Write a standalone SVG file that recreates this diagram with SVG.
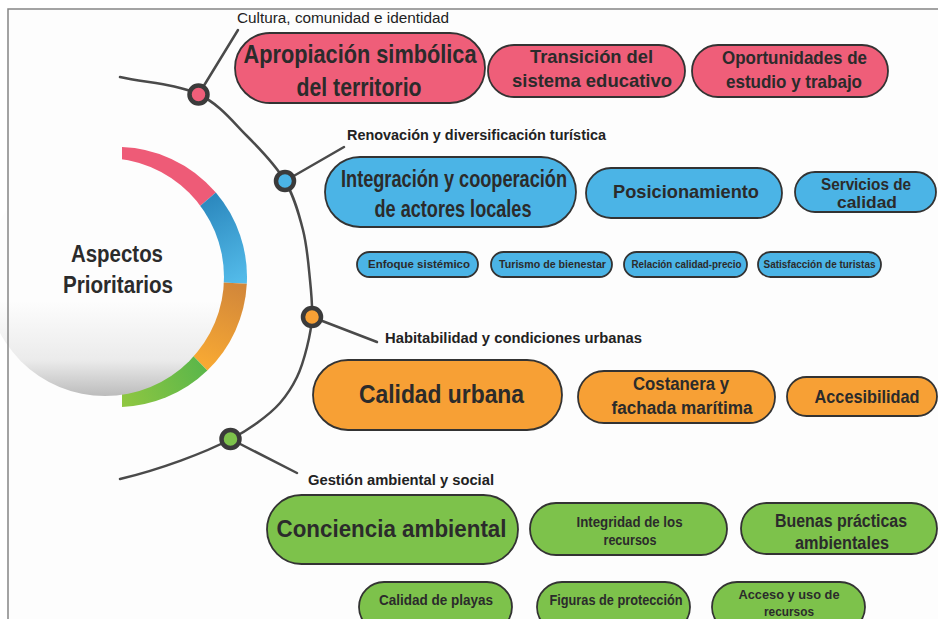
<svg xmlns="http://www.w3.org/2000/svg" width="938" height="619" viewBox="0 0 938 619">
  <defs>
    <style>
      .pill { stroke: #333333; stroke-width: 1.8; }
      .pk { fill: #EF5E79; }
      .bl { fill: #4BB4E6; }
      .or { fill: #F7A035; }
      .gr { fill: #7DC24B; }
      .t { font-family: "Liberation Sans", Arial, sans-serif; font-weight: bold; fill: #2b2b2b; text-anchor: middle; }
      .lab { font-family: "Liberation Sans", Arial, sans-serif; font-size: 14px; fill: #222222; }
      .labb { font-weight: bold; }
      .conn { stroke: #4a4a4a; stroke-width: 2.5; fill: none; stroke-linecap: round; }
      .dot { stroke: #3b3b3b; stroke-width: 4.5; }
    </style>
    <linearGradient id="gBlue" gradientUnits="userSpaceOnUse" x1="205" y1="195" x2="248" y2="282">
      <stop offset="0" stop-color="#2A86BC"/>
      <stop offset="1" stop-color="#55BDEB"/>
    </linearGradient>
    <linearGradient id="gOrange" gradientUnits="userSpaceOnUse" x1="240" y1="286" x2="205" y2="368">
      <stop offset="0" stop-color="#D2873A"/>
      <stop offset="1" stop-color="#F9AA33"/>
    </linearGradient>
    <linearGradient id="gGreen" gradientUnits="userSpaceOnUse" x1="207" y1="370" x2="122" y2="407">
      <stop offset="0" stop-color="#5AB64A"/>
      <stop offset="1" stop-color="#90C741"/>
    </linearGradient>
    <linearGradient id="gDisk" x1="0" y1="0" x2="0" y2="1">
      <stop offset="0" stop-color="#fdfdfd"/>
      <stop offset="0.6" stop-color="#fdfdfd"/>
      <stop offset="0.85" stop-color="#ebebeb"/>
      <stop offset="1" stop-color="#bcbcbc"/>
    </linearGradient>
    <clipPath id="ringClip">
      <rect x="122" y="100" width="200" height="360"/>
    </clipPath>
  </defs>

  <rect x="0" y="0" width="938" height="619" fill="#ffffff"/>
  <rect x="8" y="9" width="930" height="610" fill="#fdfdfd"/>

  <!-- central hub -->
  <g id="hub">
    <g clip-path="url(#ringClip)">
      <path d="M117,277 L117,147 A130,130 0 0 1 215.85,192.58 Z" fill="#EE5B77"/>
      <path d="M117,277 L215.85,192.58 A130,130 0 0 1 246.82,283.8 Z" fill="url(#gBlue)"/>
      <path d="M117,277 L246.82,283.8 A130,130 0 0 1 207.3,370.5 Z" fill="url(#gOrange)"/>
      <path d="M117,277 L207.3,370.5 A130,130 0 0 1 117,407 Z" fill="url(#gGreen)"/>
    </g>
    <circle cx="105" cy="277" r="119" fill="url(#gDisk)"/>
    <text class="t" x="117" y="262" font-size="23" textLength="92" lengthAdjust="spacingAndGlyphs">Aspectos</text>
    <text class="t" x="118" y="293" font-size="23" textLength="110" lengthAdjust="spacingAndGlyphs">Prioritarios</text>
  </g>

  <!-- connectors -->
  <g id="connectors">
    <path class="conn" d="M120,77 C146,82.7 176.8,84.2 198,94 C219.2,103.8 232.5,121.5 247,136 C261.5,150.5 275.7,165.3 285,181 C294.3,196.7 298.8,213.5 303,230 C307.2,246.5 308.5,265.5 310,280 C311.5,294.5 312.5,305.8 312,317 C311.5,328.2 309.5,337 307,347 C304.5,357 301.5,367.7 297,377 C292.5,386.3 286.7,395.3 280,403 C273.3,410.7 265.2,417 257,423 C248.8,429 244.7,431.8 231,439 C205,452.7 160,469.5 120,479"/>
    <line class="conn" x1="198.5" y1="94.5" x2="238" y2="30"/>
    <line class="conn" x1="285" y1="181" x2="344" y2="147"/>
    <line class="conn" x1="312" y1="317" x2="377" y2="342"/>
    <line class="conn" x1="230.5" y1="439" x2="297" y2="473"/>
    <circle class="dot pk" cx="198.5" cy="94.5" r="9"/>
    <circle class="dot bl" cx="285" cy="181" r="9"/>
    <circle class="dot or" cx="312" cy="317" r="9"/>
    <circle class="dot gr" cx="230.5" cy="439" r="9"/>
  </g>

  <!-- section labels -->
  <g id="label-cultura">
    <text class="lab" x="237" y="23" font-size="15" textLength="212" lengthAdjust="spacingAndGlyphs">Cultura, comunidad e identidad</text>
  </g>
  <g id="label-renovacion">
    <text class="lab labb" x="347" y="140" font-size="15" textLength="259" lengthAdjust="spacingAndGlyphs">Renovación y diversificación turística</text>
  </g>
  <g id="label-habitabilidad">
    <text class="lab labb" x="385" y="343" font-size="15" textLength="257" lengthAdjust="spacingAndGlyphs">Habitabilidad y condiciones urbanas</text>
  </g>
  <g id="label-gestion">
    <text class="lab labb" x="308" y="485" font-size="15" textLength="186" lengthAdjust="spacingAndGlyphs">Gestión ambiental y social</text>
  </g>

  <!-- pink row -->
  <g id="n-apropiacion">
    <rect class="pill pk" x="235" y="33" width="250" height="70" rx="35"/>
    <text class="t" x="360" y="63" font-size="25" textLength="233" lengthAdjust="spacingAndGlyphs">Apropiación simbólica</text>
    <text class="t" x="359" y="96" font-size="25" textLength="125" lengthAdjust="spacingAndGlyphs">del territorio</text>
  </g>
  <g id="n-transicion">
    <rect class="pill pk" x="488" y="45" width="197" height="52" rx="26"/>
    <text class="t" x="591.5" y="63" font-size="19" textLength="123" lengthAdjust="spacingAndGlyphs">Transición del</text>
    <text class="t" x="592" y="87" font-size="19" textLength="160" lengthAdjust="spacingAndGlyphs">sistema educativo</text>
  </g>
  <g id="n-oportunidades">
    <rect class="pill pk" x="692" y="45" width="196" height="52" rx="26"/>
    <text class="t" x="794.5" y="64" font-size="19" textLength="145" lengthAdjust="spacingAndGlyphs">Oportunidades de</text>
    <text class="t" x="794" y="88" font-size="19" textLength="136" lengthAdjust="spacingAndGlyphs">estudio y trabajo</text>
  </g>

  <!-- blue row -->
  <g id="n-integracion">
    <rect class="pill bl" x="325" y="157" width="251" height="70" rx="35"/>
    <text class="t" x="454" y="187" font-size="24" textLength="226" lengthAdjust="spacingAndGlyphs">Integración y cooperación</text>
    <text class="t" x="453" y="217" font-size="24" textLength="157" lengthAdjust="spacingAndGlyphs">de actores locales</text>
  </g>
  <g id="n-posicionamiento">
    <rect class="pill bl" x="586" y="168" width="196" height="50" rx="25"/>
    <text class="t" x="686" y="198" font-size="19" textLength="146" lengthAdjust="spacingAndGlyphs">Posicionamiento</text>
  </g>
  <g id="n-servicios">
    <rect class="pill bl" x="795" y="172" width="141" height="40" rx="20"/>
    <text class="t" x="866" y="190" font-size="16" textLength="90" lengthAdjust="spacingAndGlyphs">Servicios de</text>
    <text class="t" x="867" y="208" font-size="16" textLength="60" lengthAdjust="spacingAndGlyphs">calidad</text>
  </g>
  <g id="n-enfoque">
    <rect class="pill bl" x="357" y="252" width="121" height="25" rx="12.5"/>
    <text class="t" x="419" y="268" font-size="11" textLength="102" lengthAdjust="spacingAndGlyphs">Enfoque sistémico</text>
  </g>
  <g id="n-turismo">
    <rect class="pill bl" x="491" y="252" width="121" height="25" rx="12.5"/>
    <text class="t" x="552.5" y="268" font-size="11" textLength="107" lengthAdjust="spacingAndGlyphs">Turismo de bienestar</text>
  </g>
  <g id="n-relacion">
    <rect class="pill bl" x="624" y="252" width="123" height="25" rx="12.5"/>
    <text class="t" x="686.5" y="268" font-size="11" textLength="110" lengthAdjust="spacingAndGlyphs">Relación calidad-precio</text>
  </g>
  <g id="n-satisfaccion">
    <rect class="pill bl" x="758" y="252" width="123" height="25" rx="12.5"/>
    <text class="t" x="819.5" y="268" font-size="11" textLength="112" lengthAdjust="spacingAndGlyphs">Satisfacción de turistas</text>
  </g>

  <!-- orange row -->
  <g id="n-calidad-urbana">
    <rect class="pill or" x="313" y="360" width="249" height="70" rx="35"/>
    <text class="t" x="441.5" y="403" font-size="25" textLength="165" lengthAdjust="spacingAndGlyphs">Calidad urbana</text>
  </g>
  <g id="n-costanera">
    <rect class="pill or" x="578" y="371" width="197" height="52" rx="26"/>
    <text class="t" x="681" y="390" font-size="18" textLength="96" lengthAdjust="spacingAndGlyphs">Costanera y</text>
    <text class="t" x="682" y="414" font-size="18" textLength="141" lengthAdjust="spacingAndGlyphs">fachada marítima</text>
  </g>
  <g id="n-accesibilidad">
    <rect class="pill or" x="787" y="377" width="150" height="39" rx="19.5"/>
    <text class="t" x="867" y="403" font-size="19" textLength="105" lengthAdjust="spacingAndGlyphs">Accesibilidad</text>
  </g>

  <!-- green row -->
  <g id="n-conciencia">
    <rect class="pill gr" x="267" y="495" width="251" height="69" rx="34.5"/>
    <text class="t" x="391.5" y="537" font-size="24" textLength="230" lengthAdjust="spacingAndGlyphs">Conciencia ambiental</text>
  </g>
  <g id="n-integridad">
    <rect class="pill gr" x="530" y="503" width="197" height="52" rx="26"/>
    <text class="t" x="629.5" y="527" font-size="14" textLength="106" lengthAdjust="spacingAndGlyphs">Integridad de los</text>
    <text class="t" x="630" y="545" font-size="14" textLength="53" lengthAdjust="spacingAndGlyphs">recursos</text>
  </g>
  <g id="n-buenas">
    <rect class="pill gr" x="741" y="503" width="196" height="51" rx="25.5"/>
    <text class="t" x="841" y="527" font-size="18" textLength="132" lengthAdjust="spacingAndGlyphs">Buenas prácticas</text>
    <text class="t" x="842" y="549" font-size="18" textLength="94" lengthAdjust="spacingAndGlyphs">ambientales</text>
  </g>
  <g id="n-playas">
    <rect class="pill gr" x="359" y="582" width="153" height="50" rx="25"/>
    <text class="t" x="436" y="605" font-size="14" textLength="114" lengthAdjust="spacingAndGlyphs">Calidad de playas</text>
  </g>
  <g id="n-figuras">
    <rect class="pill gr" x="537" y="582" width="153" height="50" rx="25"/>
    <text class="t" x="616" y="605" font-size="14" textLength="133" lengthAdjust="spacingAndGlyphs">Figuras de protección</text>
  </g>
  <g id="n-acceso">
    <rect class="pill gr" x="712" y="582" width="153" height="50" rx="25"/>
    <text class="t" x="789" y="599" font-size="13.5" textLength="101" lengthAdjust="spacingAndGlyphs">Acceso y uso de</text>
    <text class="t" x="789" y="616" font-size="13.5" textLength="50" lengthAdjust="spacingAndGlyphs">recursos</text>
  </g>

  <!-- frame -->
  <path d="M938,9 L8,9 L8,619" fill="none" stroke="#858585" stroke-width="1.5"/>
</svg>
